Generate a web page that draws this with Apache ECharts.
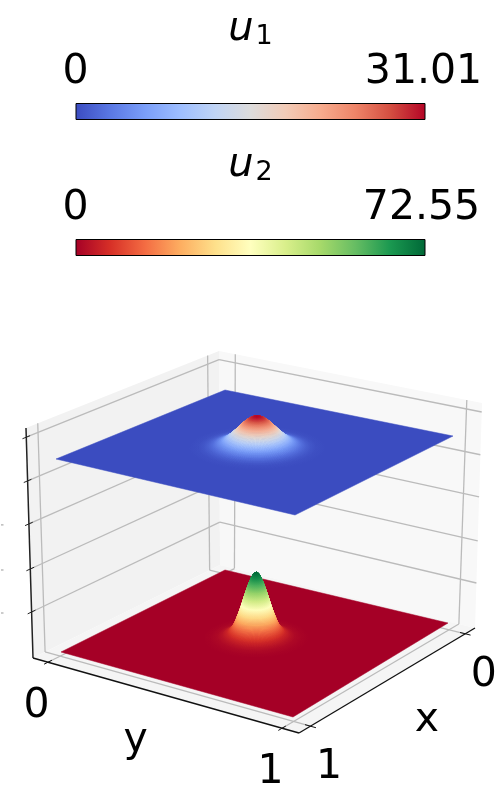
<!DOCTYPE html>
<html>
<head>
<meta charset="utf-8">
<style>
  html, body { margin: 0; padding: 0; background: #fff; }
  #main { width: 500px; height: 800px; }
</style>
<script src="https://cdn.jsdelivr.net/npm/echarts@6/dist/echarts.min.js"></script>
</head>
<body>
<div id="main"></div>
<script>
// values
const u1Max = 31.01
const u2Max = 72.55
const u1Radius = [0, .009, .017, .026, .034, .043, .052, .06, .069, .077, .086, .095, .103, .112, .12, .129, .138, .155, .172, .189, .206, .24]
const u1Values = [31.01, 30.8, 30.0, 28.9, 27.4, 25.5, 23.4, 21.1, 18.8, 16.5, 14.2, 12.0, 10.1, 8.3, 6.7, 5.3, 4.2, 2.5, 1.4, .7, .3, 0]
const u2Radius = [0, .009, .017, .026, .035, .044, .052, .061, .07, .078, .087, .096, .104, .122, .139, .165, .19]
const u2Values = [72.55, 71.1, 67.0, 60.6, 52.7, 44.5, 36.5, 28.5, 21.5, 15.5, 11.0, 7.8, 5.5, 2.8, 1.3, .4, 0]
const coolwarm = ['#3b4cc0', '#5a78e4', '#7b9ff9', '#9ebeff', '#c0d4f5', '#dddcdc', '#f2cbb7', '#f7ac8e', '#ee8468', '#d44e41', '#b40426']
const rdYlGn = ['#a50026', '#d73027', '#f46d43', '#fdae61', '#fee08b', '#ffffbf', '#d9ef8b', '#a6d96a', '#66bd63', '#1a9850', '#006837']
const xyTicks = [0, 1]
const zTicks = [.2, .387, .583, .77, .96]

// camera calibration: corners in order (x0,y0) (x1,y0) (x1,y1) (x0,y1)
const floorQuad = [[220, 565], [33, 658], [299, 733], [475, 628]]
const ceilQuad = [[219, 351], [26, 428], [300.5, 478], [482, 403]]
const u1Quad = [[225, 390], [56, 459], [295, 515], [453, 436]]
const u2Quad = [[225, 570], [61, 652], [293, 717], [448, 623]]
const u1PxPerUnit = 31 / u1Max
const u2PxPerUnit = 65 / u2Max
const margin = .068
const tickLen = .022
const font = '41px "DejaVu Sans"'

function homography(q) {
    const [[x0, y0], [x1, y1], [x2, y2], [x3, y3]] = q
    const dx1 = x1 - x2, dx2 = x3 - x2, sx = x0 - x1 + x2 - x3
    const dy1 = y1 - y2, dy2 = y3 - y2, sy = y0 - y1 + y2 - y3
    const det = dx1 * dy2 - dx2 * dy1
    const g = (sx * dy2 - dx2 * sy) / det
    const h = (dx1 * sy - sx * dy1) / det
    const a = x1 - x0 + g * x1, b = x3 - x0 + h * x3
    const d = y1 - y0 + g * y1, e = y3 - y0 + h * y3
    return (u, v) => {
        const w = g * u + h * v + 1
        return [(a * u + b * v + x0) / w, (d * u + e * v + y0) / w]
    }
}
const floorH = homography(floorQuad)
const ceilH = homography(ceilQuad)

// box coordinates: x and y run 0..1 plus the pane margin, z is 0..1 of the pane height
function project(x, y, z) {
    const span = 1 + 2 * margin
    const u = (x + margin) / span, v = (y + margin) / span
    const f = floorH(u, v), c = ceilH(u, v)
    return [f[0] + (c[0] - f[0]) * z, f[1] + (c[1] - f[1]) * z]
}

function colorbarGrid(top) {
    return { left: 75.5, width: 350, top: top, height: 17, outerBoundsMode: 'none' }
}
function colorbarAxis(index, max, end, sub) {
    return {
        type: 'value', gridIndex: index, position: 'top', min: 0, max: end,
        splitLine: { show: false }, axisLine: { show: false },
        axisTick: { length: 5, customValues: [0, max], lineStyle: { color: '#000', width: 1 } },
        axisLabel: {
            customValues: [0, max], margin: 10, color: '#000', fontSize: 41,
            fontFamily: 'DejaVu Sans', hideOverlap: false, showMinLabel: true, showMaxLabel: true,
            formatter: v => String(v)
        },
        name: '{u|u}{s|' + sub + '}', nameLocation: 'middle', nameGap: 53,
        nameTextStyle: {
            rich: {
                u: { fontSize: 40, fontStyle: 'italic', fontFamily: 'DejaVu Sans', color: '#000' },
                s: { fontSize: 27, fontFamily: 'DejaVu Sans', color: '#000', padding: [14, 0, 0, 2] }
            }
        }
    }
}
function colorbarSeries(index, end, stops) {
    const n = stops.length - 1
    return {
        type: 'bar', xAxisIndex: index, yAxisIndex: index, data: [end], barWidth: '100%', silent: true,
        itemStyle: {
            borderColor: '#000', borderWidth: 1,
            color: new echarts.graphic.LinearGradient(0, 0, 1, 0, stops.map((c, i) => ({ offset: i / n, color: c })))
        }
    }
}

function line(api, a, b, color, width) {
    const p = api.coord(a), q = api.coord(b)
    return {
        type: 'line', shape: { x1: p[0], y1: p[1], x2: q[0], y2: q[1] },
        style: { stroke: color, lineWidth: width, fill: null }
    }
}
function text(api, at, s) {
    const p = api.coord(at)
    return {
        type: 'text',
        style: { x: p[0], y: p[1], text: s, font: font, fill: '#000', align: 'center', verticalAlign: 'middle' }
    }
}

// back panes, floor, grid lines, axis lines and labels
function boxItem(params, api) {
    const children = []
    const m = margin, hi = 1 + margin
    const poly = (pts, color) => children.push({
        type: 'polygon', shape: { points: pts.map(p => api.coord(p)) }, style: { fill: color }
    })
    poly([project(-m, -m, 0), project(hi, -m, 0), project(hi, -m, 1), project(-m, -m, 1)], '#f2f2f2')
    poly([project(-m, -m, 0), project(-m, hi, 0), project(-m, hi, 1), project(-m, -m, 1)], '#f8f8f8')
    poly([project(-m, -m, 0), project(hi, -m, 0), project(hi, hi, 0), project(-m, hi, 0)], '#f5f5f5')

    const gridColor = '#bbbbbb'
    xyTicks.forEach(t => {
        children.push(line(api, project(t, hi, 0), project(t, -m, 0), gridColor, 1.3))
        children.push(line(api, project(t, -m, 0), project(t, -m, 1), gridColor, 1.3))
        children.push(line(api, project(hi, t, 0), project(-m, t, 0), gridColor, 1.3))
        children.push(line(api, project(-m, t, 0), project(-m, t, 1), gridColor, 1.3))
    })
    zTicks.forEach(z => {
        children.push(line(api, project(hi, -m, z), project(-m, -m, z), gridColor, 1.3))
        children.push(line(api, project(-m, -m, z), project(-m, hi, z), gridColor, 1.3))
    })

    children.push(line(api, project(hi, -m, 1), project(hi, -m, 0), '#222', 1.5))
    children.push(line(api, project(hi, -m, 0), project(hi, hi, 0), '#111', 1.3))
    children.push(line(api, project(hi, hi, 0), project(-m, hi, 0), '#111', 1.3))
    zTicks.forEach((z, i) => {
        children.push(line(api, project(hi - tickLen, -m, z), project(hi + tickLen, -m, z), '#222', 1))
        if (i < 3) {
            const p = project(hi, -m, z)
            children.push(line(api, [1, p[1] + 1], [3.5, p[1] + 1], '#999', 1))
        }
    })
    xyTicks.forEach(t => {
        children.push(line(api, project(hi - tickLen, t, 0), project(hi + tickLen, t, 0), '#111', 1))
        children.push(line(api, project(t, hi - tickLen, 0), project(t, hi + tickLen, 0), '#111', 1))
        const a = project(hi, t, 0), b = project(t, hi, 0)
        children.push(text(api, [a[0] - 11.5, a[1] + 44], String(t)))
        children.push(text(api, [b[0] + 18.5, b[1] + 41.5], String(t)))
    })
    const ym = project(hi, .5, 0), xm = project(.5, hi, 0)
    children.push(text(api, [ym[0] - 26, ym[1] + 46], 'y'))
    children.push(text(api, [xm[0] + 36, xm[1] + 42], 'x'))
    return { type: 'group', children: children }
}

const SEGMENTS = 120

// rings of small quads around the bump, far ones first
function surfaceSeries(quad, radius, values, max, pxPerUnit, stops) {
    const H = homography(quad)
    const point = (i, k) => {
        const a = 2 * Math.PI * k / SEGMENTS
        const p = H(.5 + radius[i] * Math.cos(a), .5 + radius[i] * Math.sin(a))
        return [p[0], p[1] - values[i] * pxPerUnit]
    }
    const items = []
    for (let i = 0; i < radius.length - 1; i++) {
        for (let k = 0; k < SEGMENTS; k++) {
            const a = 2 * Math.PI * (k + .5) / SEGMENTS
            const r = (radius[i] + radius[i + 1]) / 2
            items.push([i, k, r * (Math.cos(a) + Math.sin(a))])
        }
    }
    items.sort((p, q) => p[2] - q[2])
    return {
        type: 'custom', xAxisIndex: 2, yAxisIndex: 2, coordinateSystem: 'cartesian2d', clip: false,
        silent: true, progressive: 0, animation: false,
        data: [[-1, 0, -9]].concat(items),
        renderItem: (params, api) => {
            const i = api.value(0), k = api.value(1)
            if (i < 0) {
                return {
                    type: 'polygon',
                    shape: { points: [[0, 0], [1, 0], [1, 1], [0, 1]].map(c => api.coord(H(c[0], c[1]))) },
                    style: { fill: stops[0], stroke: stops[0], lineWidth: .5 }
                }
            }
            const p1 = api.coord(point(i, k)), p2 = api.coord(point(i, k + 1))
            const p3 = api.coord(point(i + 1, k + 1)), p4 = api.coord(point(i + 1, k))
            const c0 = echarts.color.lerp(values[i] / max, stops)
            const c1 = echarts.color.lerp(values[i + 1] / max, stops)
            const mx0 = (p1[0] + p2[0]) / 2, my0 = (p1[1] + p2[1]) / 2
            const mx1 = (p3[0] + p4[0]) / 2, my1 = (p3[1] + p4[1]) / 2
            let fill = c0
            if (Math.abs(my1 - my0) + Math.abs(mx1 - mx0) > .5) {
                fill = new echarts.graphic.LinearGradient(mx0, my0, mx1, my1, [
                    { offset: 0, color: c0 }, { offset: 1, color: c1 }
                ], true)
            }
            return {
                type: 'polygon', shape: { points: [p1, p2, p3, p4] },
                style: { fill: fill, stroke: fill, lineWidth: .6 }
            }
        }
    }
}

const chart = echarts.init(document.getElementById('main'), null, { renderer: 'canvas' })
const u1End = u1Max * 350 / 348
const u2End = u2Max * 350 / 346

chart.setOption({
    animation: false,
    backgroundColor: '#fff',
    grid: [
        colorbarGrid(103),
        colorbarGrid(239),
        { left: 0, top: 0, width: 500, height: 800, outerBoundsMode: 'none' }
    ],
    xAxis: [
        colorbarAxis(0, u1Max, u1End, '1'),
        colorbarAxis(1, u2Max, u2End, '2'),
        { type: 'value', gridIndex: 2, min: 0, max: 500, show: false }
    ],
    yAxis: [
        { type: 'category', gridIndex: 0, data: ['u1'], show: false },
        { type: 'category', gridIndex: 1, data: ['u2'], show: false },
        { type: 'value', gridIndex: 2, min: 0, max: 800, inverse: true, show: false }
    ],
    series: [
        {
            type: 'custom', xAxisIndex: 2, yAxisIndex: 2, clip: false, silent: true,
            data: [[0, 0]], renderItem: boxItem
        },
        surfaceSeries(u2Quad, u2Radius, u2Values, u2Max, u2PxPerUnit, rdYlGn),
        surfaceSeries(u1Quad, u1Radius, u1Values, u1Max, u1PxPerUnit, coolwarm),
        colorbarSeries(0, u1End, coolwarm),
        colorbarSeries(1, u2End, rdYlGn)
    ]
})
</script>
</body>
</html>
